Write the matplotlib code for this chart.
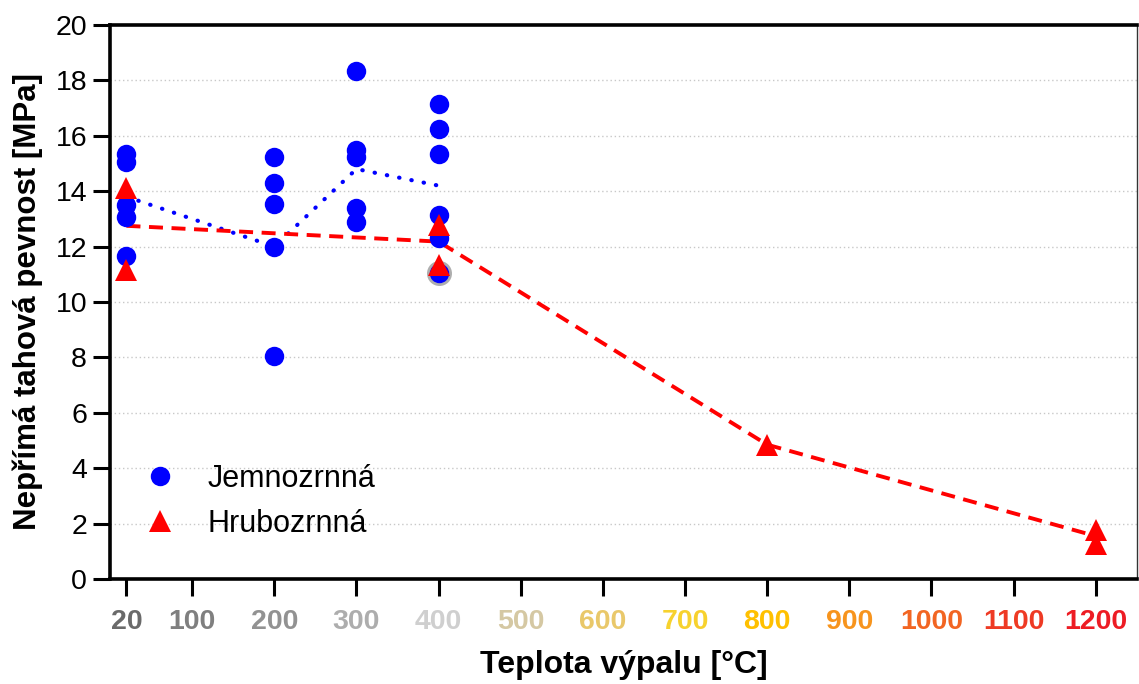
import matplotlib
matplotlib.use("Agg")
import matplotlib.pyplot as plt
from matplotlib.lines import Line2D

plt.rcParams['font.family'] = ['Liberation Sans', 'DejaVu Sans']

# Data
fine_x = [20, 20, 20, 20, 20,
          200, 200, 200, 200, 200,
          300, 300, 300, 300, 300,
          400, 400, 400, 400, 400, 400]
fine_y = [15.35, 15.05, 13.5, 13.07, 11.66,
          15.25, 14.29, 13.54, 12.0, 8.05,
          18.35, 15.49, 15.25, 13.38, 12.9,
          17.15, 16.23, 15.34, 13.14, 12.31, 11.06]
fine_mean_x = [20, 200, 300, 400]
fine_mean_y = [13.8, 12.0, 14.8, 14.2]

coarse_x = [20, 20, 400, 400, 800, 1200, 1200]
coarse_y = [14.1, 11.15, 12.78, 11.34, 4.84, 1.77, 1.28]
coarse_mean_x = [20, 400, 800, 1200]
coarse_mean_y = [12.75, 12.18, 4.85, 1.55]

highlight_x = [400]
highlight_y = [11.06]

xticks = [20, 100, 200, 300, 400, 500, 600, 700, 800, 900, 1000, 1100, 1200]
xtick_colors = ['#6a6a6a', '#7f7f7f', '#929292', '#adadad', '#cfcfcf', '#d5c8a3',
                '#e9c86a', '#f7d22e', '#ffc000', '#f7941d', '#f26522', '#ee3a24', '#ed1c24']
yticks = [0, 2, 4, 6, 8, 10, 12, 14, 16, 18, 20]

fig = plt.figure(figsize=(11.39, 6.84), dpi=100)
ax = fig.add_axes([0.0966, 0.1535, 0.9014, 0.81])

ax.set_xlim(0, 1250)
ax.set_ylim(0, 20)

for y in yticks[1:-1]:
    ax.axhline(y, color='#c8c8c8', lw=1.0, ls=(0, (1, 2)), zorder=0)

ax.plot(fine_mean_x, fine_mean_y, color='#0000ff', lw=3.0, ls=(0, (0.1, 2.9)),
        dash_capstyle='round', zorder=2)
ax.plot(coarse_mean_x, coarse_mean_y, color='#ff0000', lw=2.8, ls=(0, (3.6, 2.2)), zorder=2)

ax.plot(highlight_x, highlight_y, 'o', ms=18, color='#a0a0a0', alpha=0.85,
        markeredgewidth=0, zorder=3)
ax.plot(fine_x, fine_y, 'o', ms=14, color='#0000ff', markeredgewidth=0, zorder=4)
ax.plot(coarse_x, coarse_y, '^', ms=16.5, color='#ff0000', markeredgewidth=0, zorder=5)

ax.set_xticks(xticks)
ax.set_xticklabels([str(t) for t in xticks], fontweight='bold', fontsize=20.5)
for lbl, c in zip(ax.get_xticklabels(), xtick_colors):
    lbl.set_color(c)
ax.set_yticks(yticks)
ax.set_yticklabels([str(t) for t in yticks], fontsize=20.5)

ax.tick_params(axis='both', length=12.5, width=2.2, direction='out', pad=4)
ax.tick_params(axis='x', pad=9)

for s in ['left', 'bottom', 'top']:
    ax.spines[s].set_linewidth(2.6)
    ax.spines[s].set_color('black')
ax.spines['right'].set_linewidth(1.0)
ax.spines['right'].set_color('#333333')

ax.set_xlabel('Teplota výpalu [°C]', fontsize=23, fontweight='bold', labelpad=11)
ax.set_ylabel('Nepřímá tahová pevnost [MPa]', fontsize=22.5, fontweight='bold', labelpad=9)

handles = [Line2D([], [], marker='o', ls='', color='#0000ff', ms=14, markeredgewidth=0),
           Line2D([], [], marker='^', ls='', color='#ff0000', ms=16.5, markeredgewidth=0)]
ax.legend(handles, ['Jemnozrnná', 'Hrubozrnná'], loc='center left',
          bbox_to_anchor=(-0.002, 0.14), frameon=False, fontsize=22,
          handletextpad=0.75, labelspacing=0.5, handlelength=1.6)

fig.savefig('out.png', dpi=100)
